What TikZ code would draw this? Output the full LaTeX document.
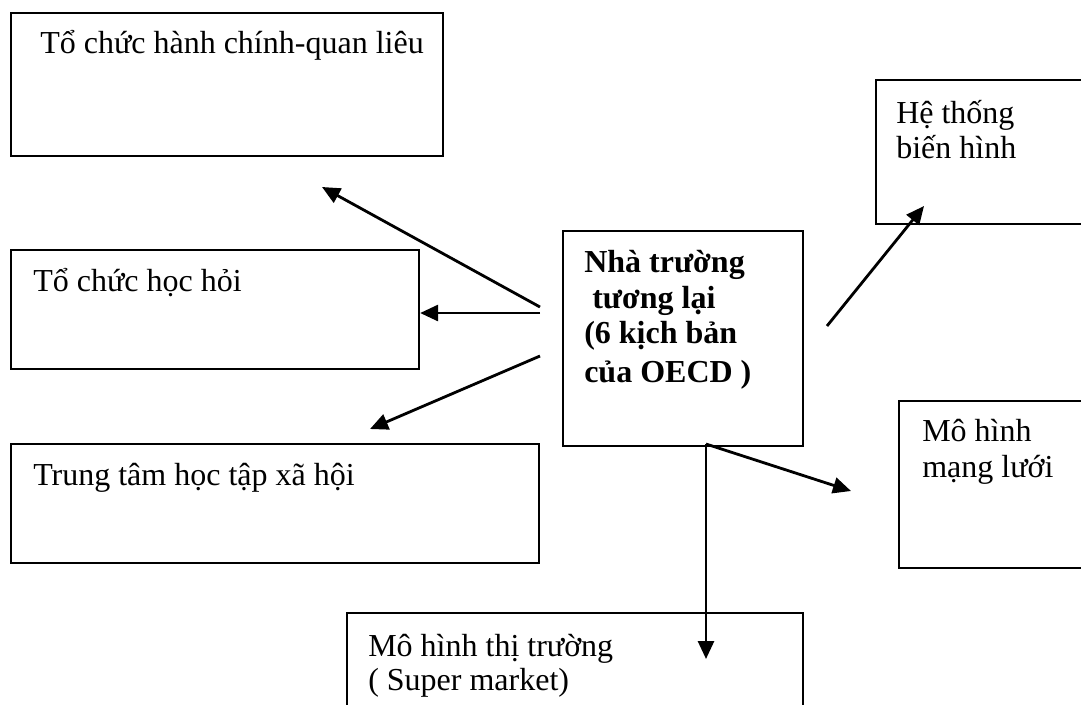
\documentclass[tikz,border=0pt]{standalone}
\usepackage{fontspec}
\setmainfont{Liberation Serif}
\usetikzlibrary{arrows.meta,fit}
\begin{document}
\begin{tikzpicture}[x=0.75pt,y=-0.75pt,
  box/.style={draw,line width=1.7pt,inner sep=0pt},
  lbl/.style={anchor=base west,inner sep=0pt,font=\fontsize{24}{24}\selectfont},
  blbl/.style={lbl,font=\fontsize{24}{24}\selectfont\bfseries},
  arr/.style={line width=2.1pt,-{Triangle[length=13.5pt,width=12pt]}}]
\clip (0,0) rectangle (1081,704);
\fill[white] (0,0) rectangle (1081,704);
% boxes
\node[box,fit={(11,13) (443,156)}] (b1) {};
\node[box,fit={(11,250) (419,369)}] (b2) {};
\node[box,fit={(11,444) (539,563)}] (b3) {};
\node[box,fit={(563,231) (803,446)}] (c) {};
\node[box,fit={(876,80) (1095,224)}] (b4) {};
\node[box,fit={(899,401) (1095,568)}] (b5) {};
\node[box,fit={(347,613) (803,720)}] (b6) {};
% texts
\node[lbl] (t1) at (40,53) {Tổ chức hành chính-quan liêu};
\node[lbl] (t2) at (33,291) {Tổ chức học hỏi};
\node[lbl] (t3) at (33,485) {Trung tâm học tập xã hội};
\node[blbl] (tc1) at (584,272) {Nhà trường};
\node[blbl] (tc2) at (584,308) {\ tương lại};
\node[blbl] (tc3) at (584,343) {(6 kịch bản};
\node[blbl] (tc4) at (584,382) {của OECD )};
\node[lbl] (t4a) at (896,123) {Hệ thống};
\node[lbl] (t4b) at (896,158) {biến hình};
\node[lbl] (t5a) at (922,441) {Mô hình};
\node[lbl] (t5b) at (922,477) {mạng lưới};
\node[lbl] (t6a) at (368,656) {Mô hình thị trường};
\node[lbl] (t6b) at (368,690) {( Super market)};
% connector end points
\coordinate (s1) at (540,307);
\coordinate (e1) at (322,187);
\coordinate (s2) at (540,313);
\coordinate (s3) at (540,356);
\coordinate (e3) at (370,429);
\coordinate (s4) at (827,326);
\coordinate (e4) at (924,206);
\coordinate (s5) at (706,444);
\coordinate (e5) at (851,491);
\coordinate (e6) at (706,659);
% connectors
\draw[arr] (s1) -- (e1);
\draw[arr] (s2) -- (b2.east |- s2);
\draw[arr] (s3) -- (e3);
\draw[arr] (s4) -- (e4);
\draw[arr] (s5) -- (e5);
\draw[arr] (s5) -- (e6);
\end{tikzpicture}
\end{document}
